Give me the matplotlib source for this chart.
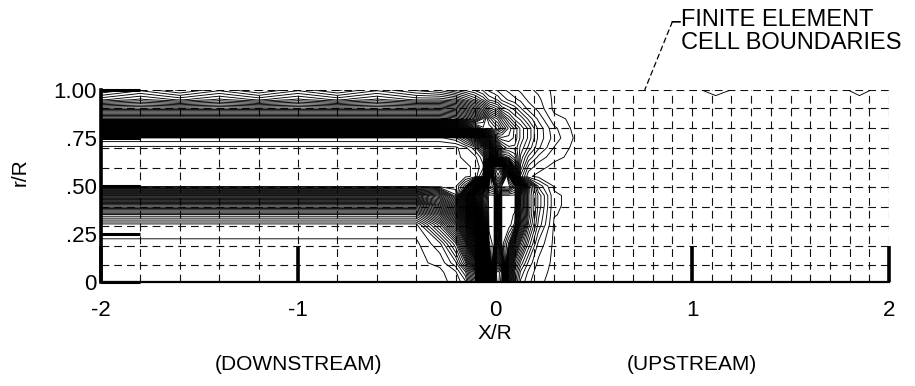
import numpy as np
import matplotlib
matplotlib.use('Agg')
import matplotlib.pyplot as plt
from matplotlib.ticker import FixedLocator
import matplotlib.transforms as mtransforms

plt.rcParams['font.family'] = ['Liberation Sans', 'DejaVu Sans']

# --- Nodal solution on the finite element mesh ---
node_r = [0.0, 0.05, 0.1, 0.2, 0.3, 0.35, 0.4, 0.45, 0.5, 0.55, 0.6, 0.65,
          0.7, 0.75, 0.8, 0.85, 0.9, 0.95, 1.0]

# far wake (X/R <= -0.4): same radial profile at every station,
# except the two rows next to the outer wall
wake_x = [-2.0, -1.8, -1.6, -1.4, -1.2, -1.0, -0.8, -0.6, -0.4]
wake_f = [0, 0, 0, 0, 1, 6, 14, 26, 40, 40, 40, 40, 40, 42, 72, 100, 92, 84, 80]
wake_f_095 = [84, 85.5, 84, 85.5, 84, 85.5, 84, 85.5, 84]
wake_f_100 = [80, 82, 80, 82, 80, 82, 80, 82, 80]

# near field around the rotor plane, one row per r/R station
near_x = [-0.28, -0.2, -0.15, -0.1, -0.06, -0.03, -0.005, 0.015, 0.035, 0.07,
          0.1, 0.13, 0.17, 0.22, 0.3, 0.4]
near_f = [
    [0, 0.5, 2, 10, 40, 80, 115, 118, 115, 84, 75, 71, 69.5, 68.4, 68, 68],
    [0, 1, 4, 12, 38, 85, 116, 118, 116, 86, 76, 72, 70, 68.6, 68, 68],
    [0.5, 3, 8, 20, 50, 92, 106, 112, 106, 88, 78, 74, 71, 69, 68, 68],
    [2, 7, 16, 34, 70, 98, 100, 108, 100, 96, 86, 79, 74, 70, 68, 68],
    [8, 16, 29, 52, 84, 100, 100, 110, 100, 100, 98, 86, 77, 72, 68.1, 68],
    [14, 23, 38, 64, 88, 100, 100, 110, 100, 100, 99, 87, 78, 72.5, 68.3, 68],
    [22, 31, 48, 74, 92, 100, 100, 110, 100, 100, 100, 88, 78, 73, 68.4, 68],
    [30, 38, 56, 80, 94, 100, 100, 110, 100, 100, 100, 88, 78, 73, 68.4, 68],
    [40, 40, 44, 60, 84, 104, 106, 112, 108, 108, 104, 94, 78, 71, 68.1, 68],
    [40, 40, 40, 40.5, 44, 100, 116, 118, 116, 104, 86, 72, 68.4, 68, 68, 68],
    [40, 40, 40, 40.5, 42, 80, 112, 116, 112, 96, 84, 74, 70, 68.6, 68, 68],
    [40, 40, 40.5, 41, 43, 52, 70, 80, 84, 82, 80, 75, 72, 70, 68.5, 68],
    [40, 40, 41, 43, 48, 56, 66, 72, 76, 78, 78, 76, 74, 71.5, 69.2, 68],
    [42, 43, 46, 52, 62, 70, 76, 79, 80, 80, 79, 77, 75, 72, 69.8, 68.2],
    [72, 74, 78, 84, 88, 88, 87, 86, 84, 81, 79, 77, 75, 72, 69.5, 68],
    [100, 99, 97, 94, 90, 86, 84, 83, 81, 78, 76, 75, 73, 71, 68.6, 68],
    [92, 91, 89, 86, 83, 80, 79, 78, 76, 75, 74, 72.5, 71, 70, 68, 68],
    [84, 83, 81, 79, 77, 75, 74.5, 74, 73, 72, 71.5, 71, 70, 69.5, 68, 68],
    [79, 77, 76, 75, 74, 73, 72.5, 72, 71.5, 71, 70.5, 70, 69.5, 69, 68, 68],
]

# upstream: freestream, apart from two small dips at the outer wall
far_x = [0.5, 1.0, 1.12, 1.25, 1.75, 1.85, 1.95, 2.0]
far_f = [68, 68, 68, 68, 68, 68, 68, 68]
far_f_100 = [68, 68, 68.6, 68, 68, 68.6, 68, 68]

# dashed finite element cell boundaries
cell_x = [-1.8, -1.6, -1.4, -1.2, -1.0, -0.8, -0.6, -0.4, -0.2, -0.1, 0.0,
          0.1, 0.2, 0.3, 0.4, 0.5, 0.6, 0.7, 0.8, 0.9, 1.0, 1.1, 1.2, 1.3,
          1.4, 1.5, 1.6, 1.7, 1.8, 1.9, 2.0]
cell_r = [0.09, 0.19, 0.29, 0.39, 0.495, 0.595, 0.70, 0.80, 0.905, 1.0]

x_ticks = [-2, -1, 0, 1, 2]
x_ticklabels = ['-2', '-1', '0', '1', '2']
r_ticks = [0, 0.25, 0.5, 0.75, 1.0]
r_ticklabels = ['0', '.25', '.50', '.75', '1.00']

# assemble the nodal table
n_r = len(node_r)
rows = []
for i in range(n_r):
    if i == n_r - 1:
        wake_row, far_row = wake_f_100, far_f_100
    elif i == n_r - 2:
        wake_row, far_row = wake_f_095, far_f
    else:
        wake_row, far_row = [wake_f[i]] * len(wake_x), far_f
    rows.append(list(wake_row) + list(near_f[i]) + list(far_row))
F = np.array(rows, dtype=float)
X, Rr = np.meshgrid(wake_x + near_x + far_x, node_r)
levels = np.arange(0.25, 120, 1.0)

fig = plt.figure(figsize=(9.15, 3.86), dpi=100)
ax = fig.add_axes([101 / 915, 104 / 386, 788 / 915, 192 / 386])

# cell boundaries
dash = (0, (7, 4.5))
ax.vlines(cell_x, 0, 1, colors='#111111', linewidth=0.8, linestyles=[dash], zorder=1)
ax.hlines(cell_r, -2, 2, colors='#111111', linewidth=0.8, linestyles=[dash], zorder=1)

# contour lines of the solution
ax.contour(X, Rr, F, levels=levels, colors='black', linewidths=0.65, zorder=2)

ax.set_xlim(-2, 2)
ax.set_ylim(0, 1)

for side in ('top', 'right'):
    ax.spines[side].set_visible(False)
ax.spines['left'].set_linewidth(2.6)
ax.spines['bottom'].set_linewidth(1.6)

ax.set_xticks(x_ticks)
ax.set_xticklabels(x_ticklabels)
ax.set_yticks(r_ticks)
ax.set_yticklabels(r_ticklabels)
ax.xaxis.set_minor_locator(FixedLocator([0]))
ax.tick_params(axis='x', which='major', direction='in', length=26, width=2.6,
               pad=13, labelsize=16)
ax.tick_params(axis='x', which='minor', direction='out', length=8, width=1.6)
ax.tick_params(axis='y', which='major', direction='in', length=28, width=2.2,
               pad=3, labelsize=16)

ax.set_ylabel('r/R', fontsize=15)
ax.yaxis.set_label_coords(-0.09, 0.57)
ax.set_xlabel('X/R', fontsize=15, labelpad=2)

trans = mtransforms.blended_transform_factory(ax.transData, ax.transAxes)
ax.text(-1, -0.43, '(DOWNSTREAM)', transform=trans, ha='center', va='center',
        fontsize=15)
ax.text(1, -0.43, '(UPSTREAM)', transform=trans, ha='center', va='center',
        fontsize=15)

# leader to the cell boundary note
ax.annotate('', xy=(0.76, 1.0), xytext=(0.9, 1.355),
            arrowprops=dict(arrowstyle='-', linestyle=(0, (4, 3)), lw=0.9,
                            shrinkA=0, shrinkB=0),
            annotation_clip=False)
ax.annotate('', xy=(0.9, 1.355), xytext=(0.94, 1.355),
            arrowprops=dict(arrowstyle='-', lw=1.2, shrinkA=0, shrinkB=0),
            annotation_clip=False)
fig.text(681 / 915, 1 - 9 / 386, 'FINITE ELEMENT\nCELL BOUNDARIES',
         ha='left', va='top', fontsize=17, linespacing=1.05)

fig.savefig('out.png', dpi=100)
